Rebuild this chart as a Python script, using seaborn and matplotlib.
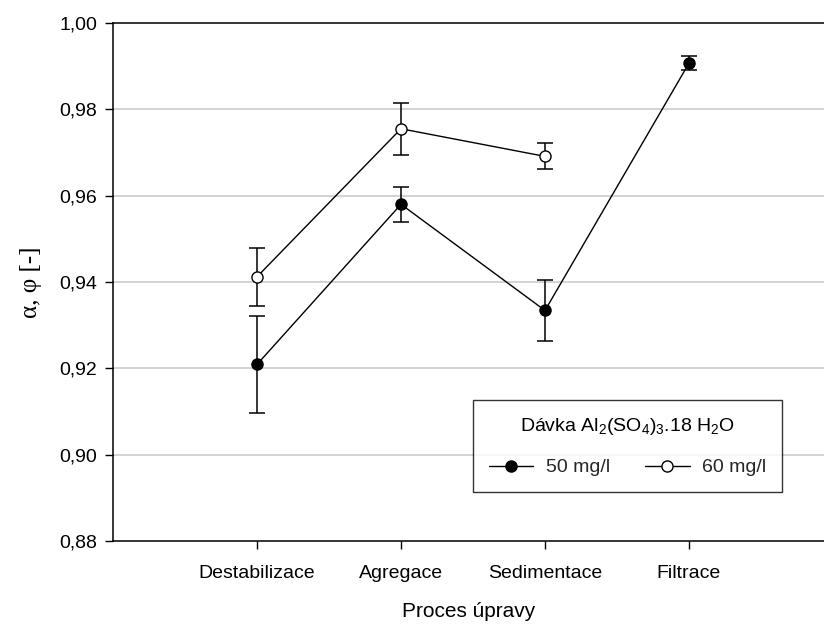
import numpy as np
import pandas as pd
import matplotlib
matplotlib.use("Agg")
import matplotlib.pyplot as plt
import seaborn as sns
from matplotlib.lines import Line2D

categories = ["Destabilizace", "Agregace", "Sedimentace", "Filtrace"]
vals_50 = [0.9209, 0.9580, 0.9334, 0.9907]
err_50 = [0.0113, 0.0040, 0.0070, 0.0017]
vals_60 = [0.9412, 0.9755, 0.9691]
err_60 = [0.0067, 0.0060, 0.0030]
yticks = [0.88, 0.90, 0.92, 0.94, 0.96, 0.98, 1.00]

sns.set_theme(style="white")
plt.rcParams['font.family'] = ['Liberation Sans', 'DejaVu Sans']
plt.rcParams['mathtext.fontset'] = 'custom'
plt.rcParams['mathtext.rm'] = 'Liberation Sans'
plt.rcParams['mathtext.default'] = 'regular'

fig = plt.figure(figsize=(8.24, 6.25), dpi=100)
ax = fig.add_axes([113/824, 84/625, 1 - 113/824, (541-23)/625])

pos50 = np.arange(1, len(vals_50) + 1)
pos60 = np.arange(1, len(vals_60) + 1)
df50 = pd.DataFrame({"x": pos50, "y": vals_50})
df60 = pd.DataFrame({"x": pos60, "y": vals_60})

for g in yticks[1:-1]:
    ax.axhline(g, color="#c8c8c8", lw=1.1, zorder=0)

ax.errorbar(pos50, vals_50, yerr=err_50, fmt="none", ecolor="black",
            elinewidth=1.1, capsize=5.5, capthick=1.1, zorder=2)
ax.errorbar(pos60, vals_60, yerr=err_60, fmt="none", ecolor="black",
            elinewidth=1.1, capsize=5.5, capthick=1.1, zorder=2)

sns.lineplot(data=df50, x="x", y="y", ax=ax, color="black", lw=1.0,
             marker="o", markersize=8, markerfacecolor="black",
             markeredgecolor="black", markeredgewidth=1.0, zorder=3)
sns.lineplot(data=df60, x="x", y="y", ax=ax, color="black", lw=1.0,
             marker="o", markersize=8, markerfacecolor="white",
             markeredgecolor="black", markeredgewidth=1.0, zorder=3)

ax.set_xlim(0, 711/144)
ax.set_ylim(0.88, 1.00)
ax.set_xticks(np.arange(1, len(categories) + 1))
ax.set_xticklabels(categories)
ax.set_yticks(yticks)
ax.set_yticklabels([f"{t:.2f}".replace(".", ",") for t in yticks])
ax.tick_params(axis="both", direction="out", length=5.5, width=1, color="black",
               labelsize=14, labelcolor="black", left=True, bottom=True)
ax.tick_params(axis="y", pad=6)
ax.tick_params(axis="x", pad=12)

for s in ["left", "bottom", "top"]:
    ax.spines[s].set_visible(True)
    ax.spines[s].set_color("black")
    ax.spines[s].set_linewidth(1.1)
ax.spines["right"].set_visible(False)

ax.set_xlabel("Proces úpravy", fontsize=15, color="black", labelpad=14)
ax.set_ylabel("α, φ [-]", fontsize=18, color="black", labelpad=12,
              family=["Liberation Serif", "DejaVu Serif"])

handles = [
    Line2D([], [], color="black", lw=1.0, marker="o", markersize=8,
           markerfacecolor="black", markeredgecolor="black"),
    Line2D([], [], color="black", lw=1.0, marker="o", markersize=8,
           markerfacecolor="white", markeredgecolor="black"),
]
leg = ax.legend(handles, ["50 mg/l", "60 mg/l"], ncol=2,
                title="Dávka Al$_2$(SO$_4$)$_3$.18 H$_2$O",
                loc="lower left", bbox_to_anchor=((473-113)/711, (541-492)/518),
                frameon=True, fancybox=False, edgecolor="black",
                fontsize=14, title_fontsize=14, handlelength=2.3,
                columnspacing=1.8, handletextpad=0.65, borderpad=0.8,
                labelspacing=0.6, borderaxespad=0)
leg.get_frame().set_linewidth(1.0)
leg.get_title().set_color("black")
leg._legend_box.sep = 16

fig.savefig("out.png", dpi=100)
